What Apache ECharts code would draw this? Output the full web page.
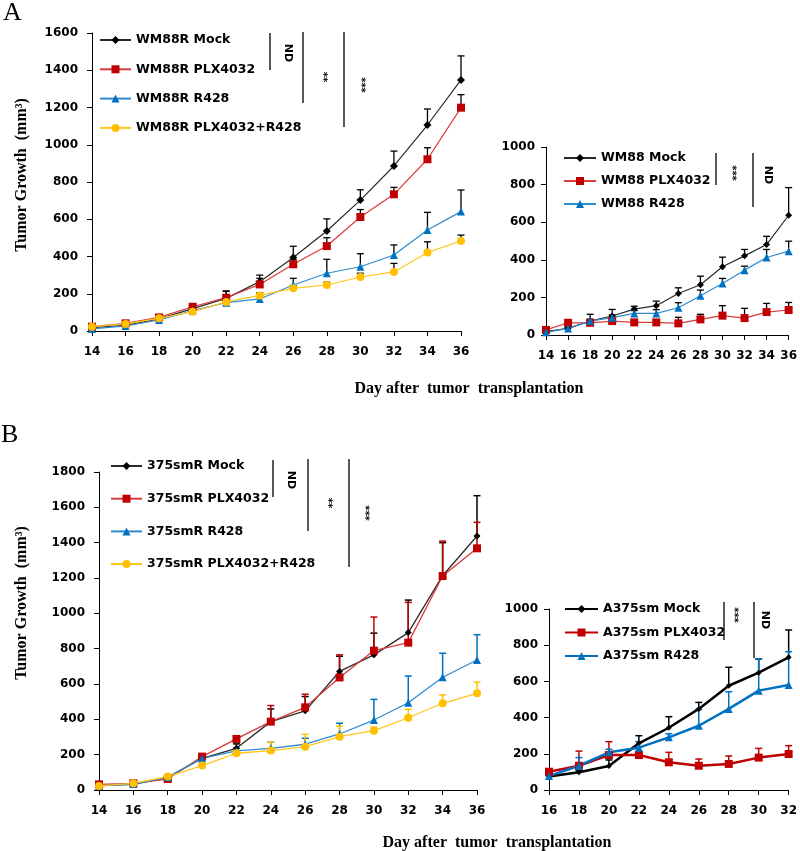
<!DOCTYPE html>
<html>
<head>
<meta charset="utf-8">
<script src="https://cdn.jsdelivr.net/npm/echarts@6/dist/echarts.min.js"></script>
<style>
html,body{margin:0;padding:0;background:#fff;}
#c{width:800px;height:851px;}
</style>
</head>
<body>
<div id="c"></div>
<script>
// ---------- data ----------
const daysA = [14, 16, 18, 20, 22, 24, 26, 28, 30, 32, 34, 36];
const daysB2 = [16, 18, 20, 22, 24, 26, 28, 30, 32];

// Panel A left: WM88R
const wm88rMock      = [18, 30, 65, 120, 175, 265, 395, 537, 703, 886, 1106, 1348];
const wm88rMockErr   = [5, 5, 8, 20, 38, 35, 60, 65, 55, 80, 86, 129];
const wm88rPLX       = [23, 41, 73, 130, 179, 250, 358, 456, 612, 734, 922, 1199];
const wm88rPLXErr    = [5, 6, 8, 12, 36, 33, 25, 45, 40, 37, 62, 70];
const wm88rR428      = [11, 27, 59, 109, 152, 172, 247, 310, 345, 408, 542, 641];
const wm88rR428Err   = [4, 5, 6, 8, 10, 12, 36, 75, 70, 54, 95, 116];
const wm88rCombo     = [23, 38, 68, 104, 156, 191, 229, 247, 290, 317, 422, 483];
const wm88rComboErr  = [4, 5, 6, 8, 10, 15, 15, 15, 20, 46, 57, 32];

// Panel A right: WM88
const wm88Mock       = [18, 35, 74, 101, 138, 156, 221, 267, 363, 421, 481, 637];
const wm88MockErr    = [5, 8, 36, 35, 15, 24, 30, 46, 51, 34, 44, 147];
const wm88PLX        = [27, 65, 65, 74, 67, 67, 62, 83, 103, 90, 122, 133];
const wm88PLXErr     = [5, 8, 10, 10, 15, 15, 32, 27, 53, 52, 46, 40];
const wm88R428       = [14, 35, 74, 92, 115, 115, 145, 209, 274, 345, 412, 446];
const wm88R428Err    = [5, 5, 10, 15, 15, 20, 27, 30, 27, 21, 43, 53];

// Panel B left: 375smR
const smRMock        = [25, 32, 72, 179, 236, 387, 448, 671, 765, 891, 1213, 1438];
const smRMockErr     = [5, 5, 8, 15, 25, 72, 81, 86, 123, 184, 187, 228];
const smRPLX         = [32, 38, 62, 189, 289, 387, 468, 637, 789, 834, 1211, 1368];
const smRPLXErr      = [5, 5, 8, 15, 15, 91, 74, 128, 190, 228, 198, 147];
const smRR428        = [23, 34, 72, 179, 221, 236, 259, 317, 396, 494, 638, 736];
const smRR428Err     = [5, 5, 8, 20, 15, 34, 34, 61, 117, 151, 136, 143];
const smRCombo       = [23, 38, 76, 138, 208, 223, 245, 302, 336, 409, 491, 547];
const smRComboErr    = [5, 5, 8, 10, 15, 47, 70, 60, 20, 48, 47, 63];

// Panel B right: A375sm
const smMock         = [74, 98, 133, 258, 344, 448, 576, 648, 733];
const smMockErr      = [5, 10, 33, 42, 61, 36, 102, 76, 151];
const smPLX          = [101, 134, 193, 193, 153, 134, 144, 179, 199];
const smPLXErr       = [8, 81, 74, 10, 55, 37, 44, 51, 46];
const smR428         = [77, 134, 208, 234, 291, 355, 448, 549, 580];
const smR428Err      = [10, 45, 17, 33, 20, 90, 95, 175, 184];

const yTitle = 'Tumor Growth  (mm³)';
const xTitle = 'Day after  tumor  transplantation';

// ---------- styling ----------
const BLACK = '#000000', LBLACK = '#2b2b2b';
const RED = '#C00000', LRED = '#D93A3A';
const BLUE = '#0070C0', LBLUE = '#2F8BD0';
const YEL = '#FFC000', LYEL = '#FFC61A';
const tickFont = 'DejaVu Sans';

function pairs(days, vals) { return days.map((d, i) => [d, vals[i]]); }
function errPairs(days, vals, errs) { return days.map((d, i) => [d, vals[i], vals[i] + errs[i]]); }

function errRender(color, lw) {
  return function (params, api) {
    const x = api.value(0), lo = api.value(1), hi = api.value(2);
    const p1 = api.coord([x, lo]), p2 = api.coord([x, hi]);
    const w = 3.5;
    return {
      type: 'group',
      children: [
        { type: 'line', shape: { x1: p1[0], y1: p1[1], x2: p2[0], y2: p2[1] }, style: { stroke: color, lineWidth: lw } },
        { type: 'line', shape: { x1: p2[0] - w, y1: p2[1], x2: p2[0] + w, y2: p2[1] }, style: { stroke: color, lineWidth: lw } }
      ]
    };
  };
}

const series = [];
function add(name, gi, days, vals, errs, markColor, lineColor, symbol, size, lw, errColor, errLw) {
  series.push({
    type: 'custom', name: name + ' err', xAxisIndex: gi, yAxisIndex: gi, z: 1,
    renderItem: errRender(errColor, errLw), data: errPairs(days, vals, errs),
    encode: { x: 0, y: [1, 2] }, silent: true
  });
  series.push({
    type: 'line', name: name, xAxisIndex: gi, yAxisIndex: gi, z: 3,
    data: pairs(days, vals), symbol: symbol, symbolSize: size, showSymbol: true,
    itemStyle: { color: markColor }, lineStyle: { color: lineColor, width: lw },
    emphasis: { disabled: true }
  });
}

// A left
add('WM88R Mock', 0, daysA, wm88rMock, wm88rMockErr, BLACK, LBLACK, 'diamond', 8, 1.2, BLACK, 1.3);
add('WM88R PLX4032', 0, daysA, wm88rPLX, wm88rPLXErr, RED, LRED, 'rect', 8, 1.2, BLACK, 1.3);
add('WM88R R428', 0, daysA, wm88rR428, wm88rR428Err, BLUE, LBLUE, 'triangle', 8, 1.2, BLACK, 1.3);
add('WM88R PLX4032+R428', 0, daysA, wm88rCombo, wm88rComboErr, YEL, LYEL, 'circle', 8, 1.2, BLACK, 1.3);
// A right
add('WM88 Mock', 1, daysA, wm88Mock, wm88MockErr, BLACK, LBLACK, 'diamond', 7, 1.2, BLACK, 1.3);
add('WM88 PLX4032', 1, daysA, wm88PLX, wm88PLXErr, RED, LRED, 'rect', 8, 1.2, BLACK, 1.3);
add('WM88 R428', 1, daysA, wm88R428, wm88R428Err, BLUE, LBLUE, 'triangle', 8, 1.2, BLACK, 1.3);
// B left
add('375smR Mock', 2, daysA, smRMock, smRMockErr, BLACK, LBLACK, 'diamond', 7, 1.3, BLACK, 1.5);
add('375smR PLX4032', 2, daysA, smRPLX, smRPLXErr, RED, LRED, 'rect', 8, 1.3, RED, 1.5);
add('375smR R428', 2, daysA, smRR428, smRR428Err, BLUE, LBLUE, 'triangle', 8, 1.3, BLUE, 1.5);
add('375smR PLX4032+R428', 2, daysA, smRCombo, smRComboErr, YEL, LYEL, 'circle', 8, 1.3, YEL, 1.5);
// B right
add('A375sm Mock', 3, daysB2, smMock, smMockErr, BLACK, BLACK, 'diamond', 6, 2.5, BLACK, 1.5);
add('A375sm PLX4032', 3, daysB2, smPLX, smPLXErr, RED, RED, 'rect', 8, 2.5, RED, 1.5);
add('A375sm R428', 3, daysB2, smR428, smR428Err, BLUE, BLUE, 'triangle', 8, 2.5, BLUE, 1.5);

// ---------- axes ----------
const grids = [
  { left: 92, top: 33, width: 369, height: 298 },
  { left: 546, top: 147, width: 244, height: 188 },
  { left: 99, top: 472, width: 378, height: 318 },
  { left: 549, top: 609, width: 241, height: 181 }
];
const xRanges = [[14, 36], [14, 36], [14, 36], [16, 32]];
const yMax = [1600, 1000, 1800, 1000];
const axisLine = { show: true, lineStyle: { color: '#000', width: 1 } };
const axisTick = { show: true, inside: false, length: 5, lineStyle: { color: '#000', width: 1 } };
const labelStyle = { color: '#000', fontFamily: tickFont, fontWeight: 'bold', fontSize: 12, formatter: v => String(v) };

const xAxis = grids.map((g, i) => ({
  type: 'value', gridIndex: i, min: xRanges[i][0], max: xRanges[i][1], interval: 2,
  axisLine, axisTick, splitLine: { show: false },
  axisLabel: Object.assign({ margin: 15, showMinLabel: true, showMaxLabel: true }, labelStyle)
}));
const yAxis = grids.map((g, i) => ({
  type: 'value', gridIndex: i, min: 0, max: yMax[i], interval: 200,
  axisLine, axisTick, splitLine: { show: false },
  axisLabel: Object.assign({ margin: i % 2 === 0 ? 14 : 11 }, labelStyle)
}));

// ---------- legends ----------
const legendText = { color: '#000', fontFamily: tickFont, fontWeight: 'bold', fontSize: 12.5, lineHeight: 14 };
function legend(names, left, top, gap, w) {
  return {
    data: names, orient: 'vertical', left: left, top: top, itemGap: gap,
    itemWidth: w, itemHeight: 10, textStyle: legendText, selectedMode: false, padding: 0
  };
}
const legends = [
  legend(['WM88R Mock', 'WM88R PLX4032', 'WM88R R428', 'WM88R PLX4032+R428'], 99, 33, 15.3, 31),
  legend(['WM88 Mock', 'WM88 PLX4032', 'WM88 R428'], 563, 151, 9, 32),
  legend(['375smR Mock', '375smR PLX4032', '375smR R428', '375smR PLX4032+R428'], 110, 459, 18.7, 31),
  legend(['A375sm Mock', 'A375sm PLX4032', 'A375sm R428'], 564, 602, 9.5, 33)
];

// ---------- annotations ----------
function vline(x, y1, y2) {
  return { type: 'line', shape: { x1: x, y1: y1, x2: x, y2: y2 }, style: { stroke: '#000', lineWidth: 1.3 }, z: 10 };
}
function rtext(txt, x, y, size) {
  return { type: 'text', x: x, y: y, rotation: -Math.PI / 2, z: 10,
    style: { text: txt, align: 'center', verticalAlign: 'middle', fill: '#000', font: 'bold ' + size + 'px DejaVu Sans' } };
}
const serifBold = 'bold 16px "Liberation Serif", "Times New Roman", serif';
const graphic = [
  { type: 'text', x: 3, y: 0, style: { text: 'A', fill: '#000', font: '26px "Liberation Serif", serif' } },
  { type: 'text', x: 1, y: 422, style: { text: 'B', fill: '#000', font: '26px "Liberation Serif", serif' } },
  { type: 'text', x: 22, y: 175, rotation: Math.PI / 2, style: { text: yTitle, align: 'center', verticalAlign: 'middle', fill: '#000', font: serifBold } },
  { type: 'text', x: 22, y: 603, rotation: Math.PI / 2, style: { text: yTitle, align: 'center', verticalAlign: 'middle', fill: '#000', font: serifBold } },
  { type: 'text', x: 469, y: 389, style: { text: xTitle, align: 'center', verticalAlign: 'middle', fill: '#000', font: serifBold } },
  { type: 'text', x: 497, y: 843, style: { text: xTitle, align: 'center', verticalAlign: 'middle', fill: '#000', font: serifBold } },
  // A left significance
  vline(270, 33, 70), rtext('ND', 288, 53, 11),
  vline(303, 32, 103), rtext('**', 323, 77, 10),
  vline(344, 32, 127), rtext('***', 361, 85, 10),
  // A right
  vline(716, 153, 185), rtext('***', 732, 173, 10),
  vline(753, 153, 207), rtext('ND', 768, 175, 11),
  // B left
  vline(273, 460, 497), rtext('ND', 291, 480, 11),
  vline(308, 459, 531), rtext('**', 328, 503, 10),
  vline(349, 459, 567), rtext('***', 365, 513, 10),
  // B right
  vline(724, 602, 640), rtext('***', 734, 615, 10),
  vline(754, 602, 658), rtext('ND', 765, 620, 11)
];

const chart = echarts.init(document.getElementById('c'), null, { renderer: 'canvas' });
chart.setOption({
  animation: false,
  backgroundColor: '#fff',
  grid: grids,
  xAxis: xAxis,
  yAxis: yAxis,
  legend: legends,
  series: series,
  graphic: graphic,
  tooltip: { show: false }
});
</script>
</body>
</html>
